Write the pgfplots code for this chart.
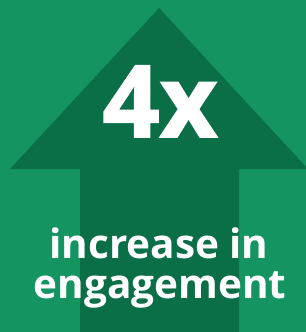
\documentclass[border=0pt]{standalone}
\usepackage{pgfplots}
\pgfplotsset{compat=1.18}
\usepackage{fontspec}
\setmainfont{Open Sans}
\newfontfamily\xbold{Open Sans}[BoldFeatures={FakeBold=1.6}]
\definecolor{bggreen}{RGB}{19,148,97}
\definecolor{arrowgreen}{RGB}{10,110,70}
\begin{document}
\begin{tikzpicture}
\begin{axis}[
  scale only axis, width=306bp, height=332bp,
  xmin=0, xmax=306, ymin=0, ymax=332, y dir=reverse,
  hide axis, clip=true,
]
\addplot[fill=bggreen, draw=none] coordinates {(0,0) (306,0) (306,332) (0,332)} -- cycle;
\addplot[fill=arrowgreen, draw=none] coordinates {(159,8) (308,169) (239,169) (239,332) (80,332) (80,169) (10,169)} -- cycle;
\node[anchor=base, text=white, font=\fontsize{100bp}{100bp}\selectfont\xbold\bfseries, inner sep=0pt] at (axis cs:160,137) {4x};
\node[anchor=base, text=white, font=\fontsize{40.5bp}{40.5bp}\selectfont\bfseries, inner sep=0pt] at (axis cs:159,258) {increase in};
\node[anchor=base, text=white, font=\fontsize{40.5bp}{40.5bp}\selectfont\bfseries, inner sep=0pt] at (axis cs:160,298) {engagement};
\end{axis}
\end{tikzpicture}
\end{document}
